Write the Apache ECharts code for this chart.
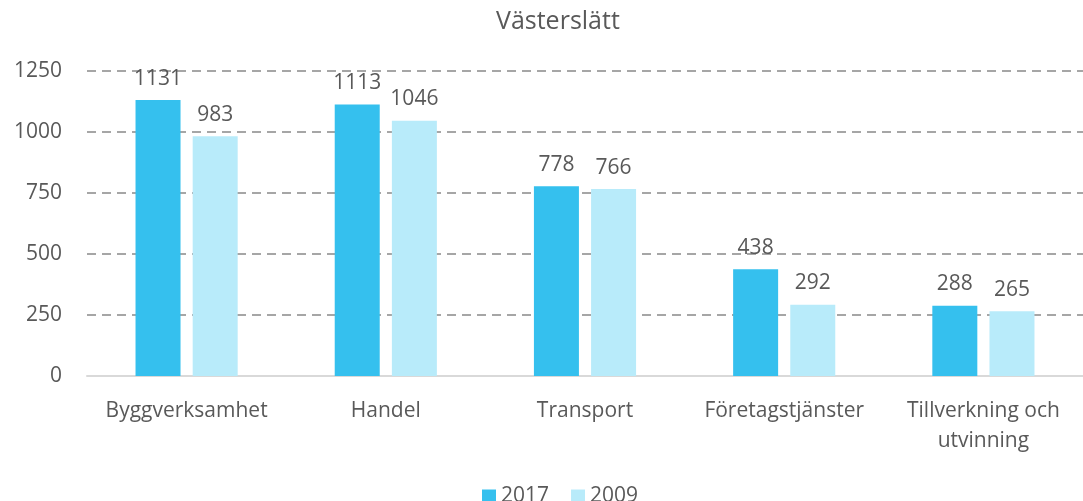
<!DOCTYPE html>
<html>
<head>
<meta charset="utf-8">
<script src="https://cdn.jsdelivr.net/npm/echarts@6/dist/echarts.min.js"></script>
<style>
  html, body { margin: 0; padding: 0; background: #fff; }
  #chart { width: 1083px; height: 501px; }
</style>
</head>
<body>
<div id="chart"></div>
<script>
const categories = ['Byggverksamhet', 'Handel', 'Transport', 'Företagstjänster', 'Tillverkning och\nutvinning']
const values2017 = [1131, 1113, 778, 438, 288]
const values2009 = [983, 1046, 766, 292, 265]
const yTicks = { min: 0, max: 1250, interval: 250 }

const textColor = '#595959'
const font = 'Open Sans'

const chart = echarts.init(document.getElementById('chart'))
chart.setOption({
  animation: false,
  title: {
    text: 'Västerslätt',
    left: 491,
    top: 4,
    textStyle: { color: textColor, fontFamily: font, fontWeight: 'normal', fontSize: 25 }
  },
  legend: {
    top: 481,
    left: 477,
    icon: 'rect',
    itemWidth: 14,
    itemHeight: 14,
    itemGap: 22,
    textStyle: { color: textColor, fontFamily: font, fontSize: 21 },
    data: ['2017', '2009']
  },
  grid: {
    left: 87,
    top: 71,
    width: 1004,
    bottom: 125,
    containLabel: false
  },
  xAxis: {
    type: 'category',
    data: categories,
    axisTick: { show: false },
    axisLine: { lineStyle: { color: '#D9D9D9', width: 2 } },
    axisLabel: { color: textColor, fontFamily: font, fontSize: 21, margin: 20, lineHeight: 30, interval: 0 }
  },
  yAxis: {
    type: 'value',
    min: yTicks.min,
    max: yTicks.max,
    interval: yTicks.interval,
    axisLine: { show: false },
    axisTick: { show: false },
    axisLabel: { color: textColor, fontFamily: font, fontSize: 21, margin: 25, formatter: v => String(v) },
    splitLine: { lineStyle: { color: '#A6A6A6', width: 2, type: [9, 6] } }
  },
  series: [
    {
      name: '2017',
      type: 'bar',
      data: values2017,
      barWidth: 45,
      barGap: '27%',
      itemStyle: { color: '#35C0EE' },
      label: { show: true, position: 'top', distance: 11, color: textColor, fontFamily: font, fontSize: 21 }
    },
    {
      name: '2009',
      type: 'bar',
      data: values2009,
      barWidth: 45,
      itemStyle: { color: '#B8EBFA' },
      label: { show: true, position: 'top', distance: 11, color: textColor, fontFamily: font, fontSize: 21 }
    }
  ]
})
</script>
</body>
</html>
